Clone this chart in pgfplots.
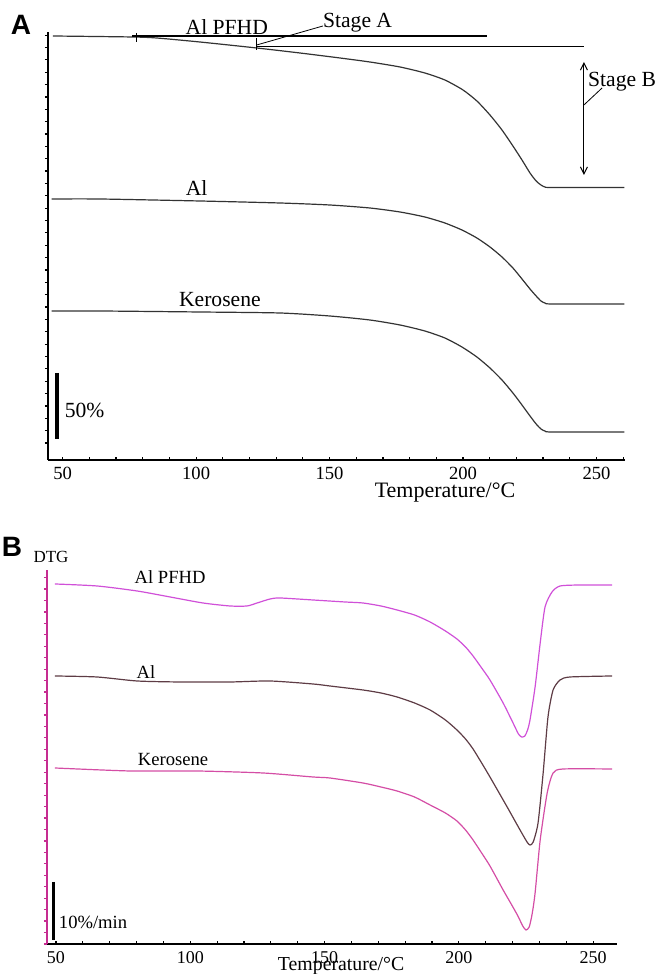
\documentclass[border=0pt]{standalone}
\usepackage{fontspec}
\setmainfont{Liberation Serif}
\newfontfamily\panelfont{Liberation Sans}
\usepackage{pgfplots}
\pgfplotsset{compat=1.18}
\usetikzlibrary{arrows.meta}
\definecolor{pfhd}{HTML}{D050D8}
\definecolor{alc}{HTML}{5E3C45}
\definecolor{kero}{HTML}{D44DA5}
\definecolor{axmag}{HTML}{C62D91}
\newcommand\toplab{\fontsize{10.8}{12}\selectfont}
\newcommand\botlab{\fontsize{9.3}{11}\selectfont}

\begin{document}
\begin{tikzpicture}
\path[use as bounding box] (0,0) rectangle (328.5pt,487pt);

% ---------- A: TG ----------
\begin{axis}[
  at={(24pt,257pt)}, anchor=south west,
  scale only axis, width=288.5pt, height=214pt,
  xmin=44.5, xmax=260.7, ymin=0, ymax=428,
  axis lines=left, axis line style={-, line width=0.8pt},
  xtick={50,100,...,250}, minor xtick={60,70,...,260},
  ytick={17,29.36,...,425.5}, yticklabels={},
  xtick align=inside, ytick align=outside,
  major tick length=1.6pt, minor tick length=1.6pt,
  tick style={line width=0.6pt, black},
  /pgf/number format/assume math mode=true,
  xticklabel style={font=\fontsize{9.3}{11}\selectfont},
  xlabel={Temperature/°C},
  xlabel style={at={(axis description cs:0.688,0)}, anchor=center, yshift=-16.5pt, inner sep=0pt, font=\fontsize{11}{13}\selectfont},
  clip=false,
]
% Al PFHD
\addplot[black!80, line width=0.6pt, smooth, tension=0.4] coordinates {
(46.3,424) (76.2,423) (85.2,422) (101.4,418) (122.7,412) (138.9,407)
(153.9,402) (165.1,398) (176.4,393) (185.7,387) (193.2,380) (200,370)
(205.2,359) (210.1,345) (214.6,330) (218.7,314) (222.1,300) (225.1,287)
(227.4,279) (229.2,275) (230.7,273) (233.3,272.5) (260.5,272.5)};
% Al
\addplot[black!80, line width=0.6pt, smooth, tension=0.4] coordinates {
(45.9,261) (63.9,261) (101.4,259) (131.4,257) (150.1,255) (165.1,252)
(176.4,248) (185.7,243) (193.2,237) (199.6,230) (205.2,222) (210.1,213)
(214.6,203) (218.7,192) (222.1,181) (225.1,171) (227.4,164) (229.2,159)
(230.7,157) (233.3,156) (260.5,156)};
% Kerosene
\addplot[black!80, line width=0.6pt, smooth, tension=0.4] coordinates {
(45.9,149) (63.9,149) (101.4,148) (131.4,147) (150.1,144) (165.1,140)
(176.4,135) (185.7,129) (193.2,122) (199.6,113) (205.2,103) (210.1,92)
(214.6,80) (218.7,67) (222.1,55) (225.1,44) (227.4,36) (229.2,31)
(230.7,29) (233.3,28) (260.5,28)};

\draw[line width=1pt] (axis cs:76,424) -- (axis cs:209,424);
\draw[line width=0.5pt] (axis cs:122.7,413) -- (axis cs:245.3,413);
\draw[line width=0.5pt] (axis cs:77.7,427) -- (axis cs:77.7,418);
\draw[line width=0.5pt] (axis cs:122.7,422) -- (axis cs:122.7,410);
\draw[line width=0.4pt] (axis cs:122.7,415) -- (axis cs:147.5,434);
\node[font=\toplab] at (axis cs:160.5,437) {Stage A};
\draw[line width=0.5pt, {Straight Barb[length=3.5pt,width=3.5pt]}-{Straight Barb[length=3.5pt,width=3.5pt]}]
  (axis cs:245.3,398) -- (axis cs:245.3,285);
\draw[line width=0.4pt] (axis cs:245.3,355) -- (axis cs:252.1,372);
\node[font=\toplab] at (axis cs:259.6,378) {Stage B};
\node[font=\toplab] at (axis cs:111.5,433) {Al PFHD};
\node[font=\toplab] at (axis cs:100.2,272) {Al};
\node[font=\toplab] at (axis cs:108.9,160) {Kerosene};
\draw[line width=2pt] (axis cs:47.75,87) -- (axis cs:47.75,21);
\node[font=\toplab] at (axis cs:58.2,50) {50\%};
\end{axis}

% ---------- B: DTG ----------
\begin{axis}[
  at={(23.5pt,15pt)}, anchor=south west,
  scale only axis, width=285pt, height=187pt,
  xmin=46.65, xmax=258.9, ymin=0, ymax=374,
  axis lines=left, axis line style={-, line width=0.8pt},
  y axis line style={axmag},
  xtick={50,100,...,250}, minor xtick={60,70,...,250},
  ytick={0,11.45,...,367}, yticklabels={},
  xtick align=inside, ytick align=outside,
  major tick length=1.6pt, minor tick length=1.6pt,
  x tick style={line width=0.6pt, black},
  y tick style={line width=0.6pt, axmag},
  /pgf/number format/assume math mode=true,
  xticklabel style={font=\fontsize{9}{11}\selectfont},
  xlabel={Temperature/°C},
  xlabel style={at={(axis description cs:0.516,0)}, anchor=center, yshift=-11pt, inner sep=0pt, font=\fontsize{9.9}{11}\selectfont},
  clip=false,
]
% Al PFHD
\addplot[pfhd, line width=0.6pt, smooth, tension=0.4] coordinates {
(49.6,360) (65.3,358) (80.2,353) (92.5,347) (104.7,341) (114.8,338)
(121.1,338) (124.9,341) (129.7,345) (133.4,346) (145.7,344) (157.6,342)
(164.3,341) (171,338) (177,334) (183.5,329) (189.3,322) (195,313)
(199.3,305) (202.5,297) (205.3,288) (208.5,276) (211.6,264) (216.5,241)
(220.2,221) (222.2,210) (223.4,207) (224.6,208) (225.6,214) (226.5,224)
(228.4,257) (230.3,301) (232.1,337) (234.7,352) (237.7,358) (245.2,359)
(257.1,359)};
% Al
\addplot[alc, line width=0.6pt, smooth, tension=0.4] coordinates {
(49.6,268) (65.3,267) (80.2,263) (96.2,262) (114.8,262) (129.7,263)
(145.7,260) (152,258) (164.3,254) (171,251) (177,247) (183.5,241)
(189.3,234) (195,224) (199.3,214) (202.5,205) (205.3,195) (208.5,181)
(211.6,167) (218,137) (222.8,114) (225.4,102) (226.5,99) (227.7,102)
(229.5,121) (231.4,171) (233.2,227) (235.1,254) (237.7,264) (241.4,267)
(257.1,268)};
% Kerosene
\addplot[kero, line width=0.6pt, smooth, tension=0.4] coordinates {
(49.6,176) (77.6,173) (102.5,173) (127.1,171) (145.7,167) (152,166)
(164.3,161) (171,157) (177,153) (183.5,147) (189.3,139) (195,131)
(199.3,123) (202.5,114) (205.3,104) (208.5,91) (211.6,78) (216.5,54)
(219.5,40) (222,28) (223.8,18) (225,14) (226.2,17) (227.3,30)
(228.4,51) (230.3,104) (232.9,151) (235.1,171) (238.8,175) (257.1,175)};

\node[font=\botlab] at (axis cs:92.5,367) {Al PFHD};
\node[font=\botlab] at (axis cs:83.5,272) {Al};
\node[font=\botlab] at (axis cs:93.6,184) {Kerosene};
\draw[line width=1.5pt] (axis cs:48.9,62) -- (axis cs:48.9,4);
\node[font=\botlab] at (axis cs:63.8,22) {10\%/min};
\end{axis}

\node[font=\panelfont\bfseries\fontsize{14}{16}\selectfont] at (10.5pt,474.5pt) {A};
\node[font=\panelfont\bfseries\fontsize{14}{16}\selectfont] at (6pt,213.5pt) {B};
\node[font=\fontsize{8.5}{10}\selectfont] at (25.5pt,208.5pt) {DTG};
\end{tikzpicture}
\end{document}
